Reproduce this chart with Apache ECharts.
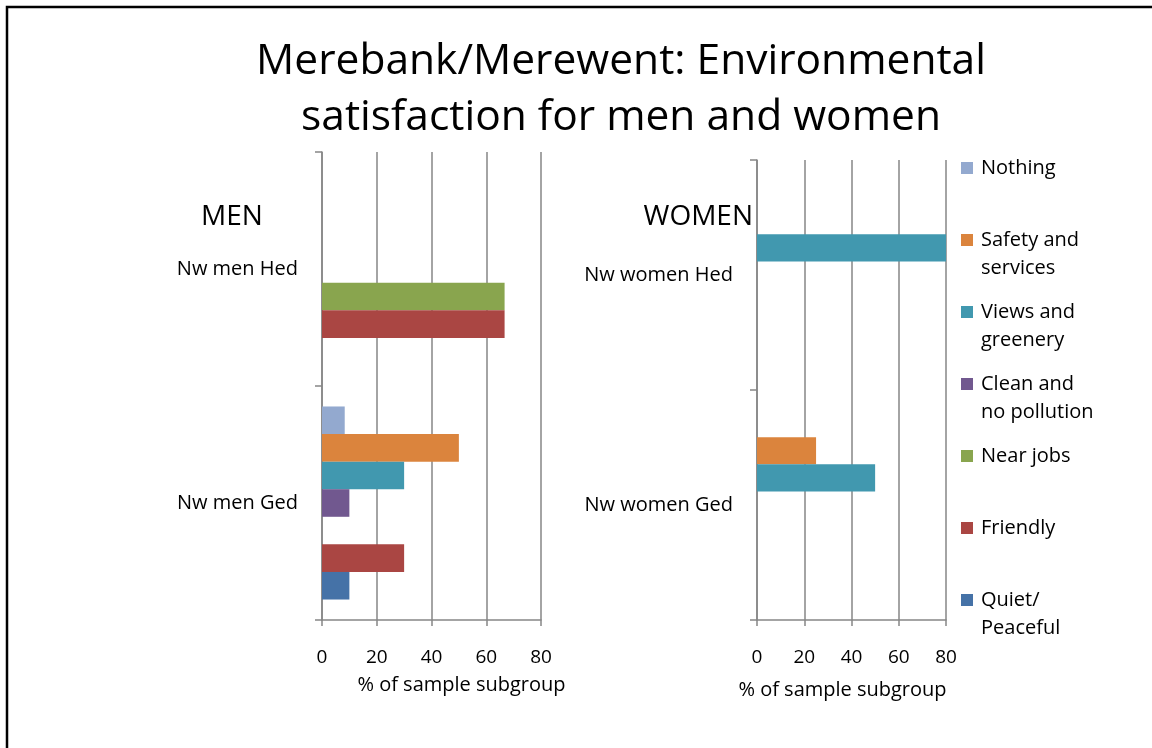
<!DOCTYPE html>
<html>
<head>
<meta charset="utf-8">
<script src="https://cdn.jsdelivr.net/npm/echarts@6/dist/echarts.min.js"></script>
<style>
    html, body {margin: 0; padding: 0; background: #fff;}
    #main {width: 1152px; height: 748px;}
</style>
</head>
<body>
<div id="main"></div>
<script>
    // categories (first item sits at the bottom of the axis)
    var menCats = ['Nw men Ged', 'Nw men Hed'];
    var womenCats = ['Nw women Ged', 'Nw women Hed'];
    var xTicks = [0, 20, 40, 60, 80];

    // series, listed top to bottom as they appear in each group
    var seriesNames = ['Nothing', 'Safety and services', 'Views and greenery',
        'Clean and no pollution', 'Near jobs', 'Friendly', 'Quiet/Peaceful'];
    // values per series: [Ged, Hed]
    var menValues = [
        [8.3, 0],
        [50, 0],
        [30, 0],
        [10, 0],
        [0, 66.7],
        [30, 66.7],
        [10, 0]
    ];
    var womenValues = [
        [0, 0],
        [25, 0],
        [50, 100],
        [0, 0],
        [0, 0],
        [0, 0],
        [0, 0]
    ];
    // legend wording, wrapped the way the original wraps it
    var legendLines = {
        'Nothing': ['Nothing'],
        'Safety and services': ['Safety and', 'services'],
        'Views and greenery': ['Views and', 'greenery'],
        'Clean and no pollution': ['Clean and', 'no pollution'],
        'Near jobs': ['Near jobs'],
        'Friendly': ['Friendly'],
        'Quiet/Peaceful': ['Quiet/', 'Peaceful']
    };

    var colors = ['#93A9CF', '#DB843D', '#4198AF', '#71588F', '#89A54E', '#AA4643', '#4572A7'];
    var font = 'Open Sans';
    var axisGrey = '#868686';

    function xAxisFor(gridIndex, nameGap, namePad) {
        return {
            type: 'value', gridIndex: gridIndex, min: xTicks[0], max: xTicks[xTicks.length - 1], interval: 20,
            name: '% of sample subgroup', nameLocation: 'middle', nameGap: nameGap,
            nameTextStyle: {fontFamily: font, fontSize: 20, color: '#000', padding: namePad},
            axisLine: {show: true, lineStyle: {color: axisGrey, width: 1.5}},
            axisTick: {show: true, length: 6, lineStyle: {color: axisGrey, width: 1.5}},
            axisLabel: {fontFamily: font, fontSize: 19, color: '#000', margin: 28},
            splitLine: {show: true, lineStyle: {color: axisGrey, width: 1.5}}
        };
    }

    function yAxisFor(gridIndex, cats) {
        return {
            type: 'category', gridIndex: gridIndex, data: cats,
            axisLine: {show: true, lineStyle: {color: axisGrey, width: 1.5}},
            axisTick: {show: true, length: 7, inside: false, lineStyle: {color: axisGrey, width: 1.5}},
            axisLabel: {fontFamily: font, fontSize: 20, color: '#000', margin: 24},
            splitLine: {show: false}
        };
    }

    var series = [];
    seriesNames.forEach(function (name, i) {
        series.push({
            name: name, type: 'bar', xAxisIndex: 0, yAxisIndex: 0,
            barGap: 0, barCategoryGap: '17.5%', clip: true,
            itemStyle: {color: colors[i]},
            data: menValues[i]
        });
    });
    seriesNames.forEach(function (name, i) {
        series.push({
            name: name, type: 'bar', xAxisIndex: 1, yAxisIndex: 1,
            barGap: 0, barCategoryGap: '17.5%', clip: true,
            itemStyle: {color: colors[i]},
            data: womenValues[i]
        });
    });

    var chart = echarts.init(document.getElementById('main'), null, {renderer: 'canvas'});
    window.addEventListener('resize', function () {
        chart.resize()
    });
    chart.setOption({
        animation: false,
        backgroundColor: '#fff',
        title: {
            text: 'Merebank/Merewent: Environmental\nsatisfaction for men and women',
            left: 621, top: 34, textAlign: 'center', padding: 0,
            textStyle: {fontFamily: font, fontSize: 42.5, fontWeight: 'normal', color: '#000', lineHeight: 56}
        },
        legend: {
            orient: 'vertical', left: 961, top: 126, padding: 0,
            itemWidth: 12, itemHeight: 12, itemGap: -12,
            icon: 'rect',
            selectedMode: false,
            data: seriesNames,
            // every entry is three lines tall, the marker lines up with the middle one
            formatter: function (name) {
                var lines = legendLines[name];
                return [' ', lines[0], lines[1] || ' '].join('\n');
            },
            textStyle: {fontFamily: font, fontSize: 20, color: '#000', lineHeight: 28, padding: [0, 0, 0, 3]}
        },
        grid: [
            {left: 322, top: 152, width: 219, height: 468, containLabel: false},
            {left: 757, top: 160, width: 189, height: 460, containLabel: false}
        ],
        xAxis: [xAxisFor(0, 55, [0, 0, 0, 60]), xAxisFor(1, 60, [0, 18, 0, 0])],
        yAxis: [yAxisFor(0, menCats), yAxisFor(1, womenCats)],
        graphic: [
            {
                type: 'rect', shape: {x: 7, y: 7, width: 1200, height: 800},
                style: {fill: 'none', stroke: '#000', lineWidth: 2.5}, silent: true
            },
            {
                type: 'text', x: 232, y: 217,
                style: {text: 'MEN', font: '28px "Open Sans"', fill: '#000',
                    align: 'center', verticalAlign: 'middle', textAlign: 'center', textVerticalAlign: 'middle'}
            },
            {
                type: 'text', x: 753, y: 217,
                style: {text: 'WOMEN', font: '28px "Open Sans"', fill: '#000',
                    align: 'right', verticalAlign: 'middle', textAlign: 'right', textVerticalAlign: 'middle'}
            }
        ],
        series: series
    });
</script>
</body>
</html>
